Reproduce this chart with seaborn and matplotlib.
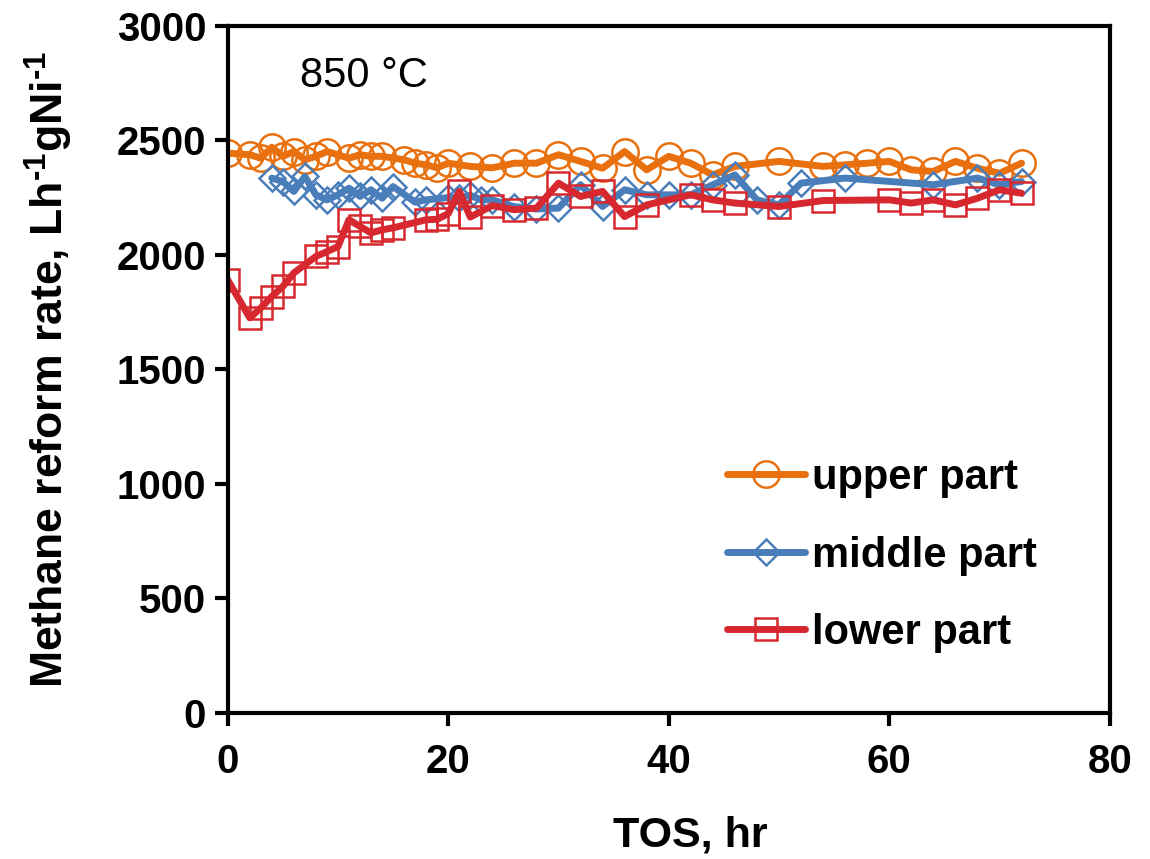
import matplotlib
matplotlib.use("Agg")
import matplotlib.pyplot as plt
import seaborn as sns
import pandas as pd

# upper part (orange circles)
upper_tos = [0, 2, 3, 4, 5, 6, 7, 8, 9, 11, 12, 13, 14, 16, 17, 18, 19, 20, 22, 24,
             26, 28, 30, 32, 34, 36, 38, 40, 42, 44, 46, 50, 54, 56, 58, 60, 62, 64,
             66, 68, 70, 72]
upper_rate = [2444, 2437, 2422, 2470, 2430, 2451, 2415, 2430, 2451, 2422, 2437, 2430,
              2430, 2415, 2400, 2393, 2380, 2400, 2386, 2380, 2400, 2400, 2437, 2408,
              2378, 2451, 2371, 2430, 2400, 2349, 2386, 2408, 2386, 2393, 2400, 2408,
              2371, 2364, 2408, 2378, 2356, 2400]

# middle part (blue diamonds)
middle_tos = [4, 5, 6, 7, 8, 9, 10, 11, 12, 13, 14, 15, 17, 18, 20, 21, 22, 23, 24,
              26, 28, 30, 32, 34, 36, 38, 40, 42, 44, 46, 48, 50, 52, 56, 64, 68, 70, 72]
middle_rate = [2335, 2320, 2277, 2342, 2262, 2240, 2262, 2291, 2255, 2284, 2247, 2298,
               2230, 2240, 2250, 2250, 2260, 2240, 2240, 2210, 2200, 2204, 2306, 2211,
               2284, 2262, 2262, 2262, 2306, 2349, 2240, 2218, 2313, 2335, 2306, 2335,
               2306, 2320]

# lower part (red squares)
lower_tos = [0, 2, 3, 4, 5, 6, 8, 9, 10, 11, 12, 13, 14, 15, 18, 19, 20, 21, 22, 24,
             26, 28, 30, 32, 34, 36, 38, 42, 44, 46, 50, 54, 60, 62, 64, 66, 68, 70, 72]
lower_rate = [1891, 1725, 1768, 1818, 1862, 1921, 1993, 2014, 2036, 2153, 2124, 2096,
              2109, 2118, 2153, 2155, 2180, 2277, 2165, 2215, 2197, 2204, 2313, 2255,
              2277, 2167, 2218, 2262, 2240, 2226, 2211, 2237, 2240, 2226, 2240, 2218,
              2247, 2284, 2269]

series = [
    ("upper part", upper_tos, upper_rate, "#E8700E", "o", 19),
    ("middle part", middle_tos, middle_rate, "#4A7EBB", "D", 13),
    ("lower part", lower_tos, lower_rate, "#D7282F", "s", 15.5),
]

sns.set_style("ticks")
plt.rcParams["font.family"] = ["Liberation Sans", "DejaVu Sans"]
plt.rcParams["text.color"] = "black"
plt.rcParams["axes.labelcolor"] = "black"
plt.rcParams["xtick.color"] = "black"
plt.rcParams["ytick.color"] = "black"
plt.rcParams["mathtext.fontset"] = "custom"
plt.rcParams["mathtext.rm"] = "Liberation Sans:bold"
plt.rcParams["mathtext.bf"] = "Liberation Sans:bold"

fig = plt.figure(figsize=(11.5, 8.59), dpi=100)
ax = fig.add_axes([0.198, 0.170, 0.767, 0.800])

for name, tos, rate, color, marker, ms in series:
    df = pd.DataFrame({"TOS": tos, "rate": rate})
    sns.lineplot(data=df, x="TOS", y="rate", ax=ax, color=color, linewidth=5,
                 marker=marker, markersize=ms, markerfacecolor="none",
                 markeredgecolor=color, markeredgewidth=1.8, label=name,
                 sort=False, errorbar=None)

ax.set_xlim(0, 80)
ax.set_ylim(0, 3000)
ax.set_xticks([0, 20, 40, 60, 80])
ax.set_yticks([0, 500, 1000, 1500, 2000, 2500, 3000])
for side in ["left", "right", "top", "bottom"]:
    ax.spines[side].set_linewidth(3)
    ax.spines[side].set_color("black")
ax.tick_params(direction="out", length=9.5, width=3, labelsize=29)
ax.tick_params(axis="x", pad=12)
ax.tick_params(axis="y", pad=6)
for lab in ax.get_xticklabels() + ax.get_yticklabels():
    lab.set_fontweight("bold")

ax.set_xlabel("TOS, hr", fontsize=31, fontweight="bold", labelpad=25, x=0.525)
ax.set_ylabel(r"Methane reform rate, Lh$^{‐1}$gNi$^{‐1}$", fontsize=32,
              fontweight="bold", labelpad=30)

ax.text(0.082, 0.927, "850 °C", transform=ax.transAxes, fontsize=30,
        ha="left", va="center")

leg = ax.legend(loc="upper left", bbox_to_anchor=(0.566, 0.371), frameon=False,
                handlelength=1.87, handletextpad=0.17, labelspacing=0.9,
                prop={"size": 30, "weight": "bold"}, borderaxespad=0,
                borderpad=0)

fig.savefig("out.png", dpi=100)
